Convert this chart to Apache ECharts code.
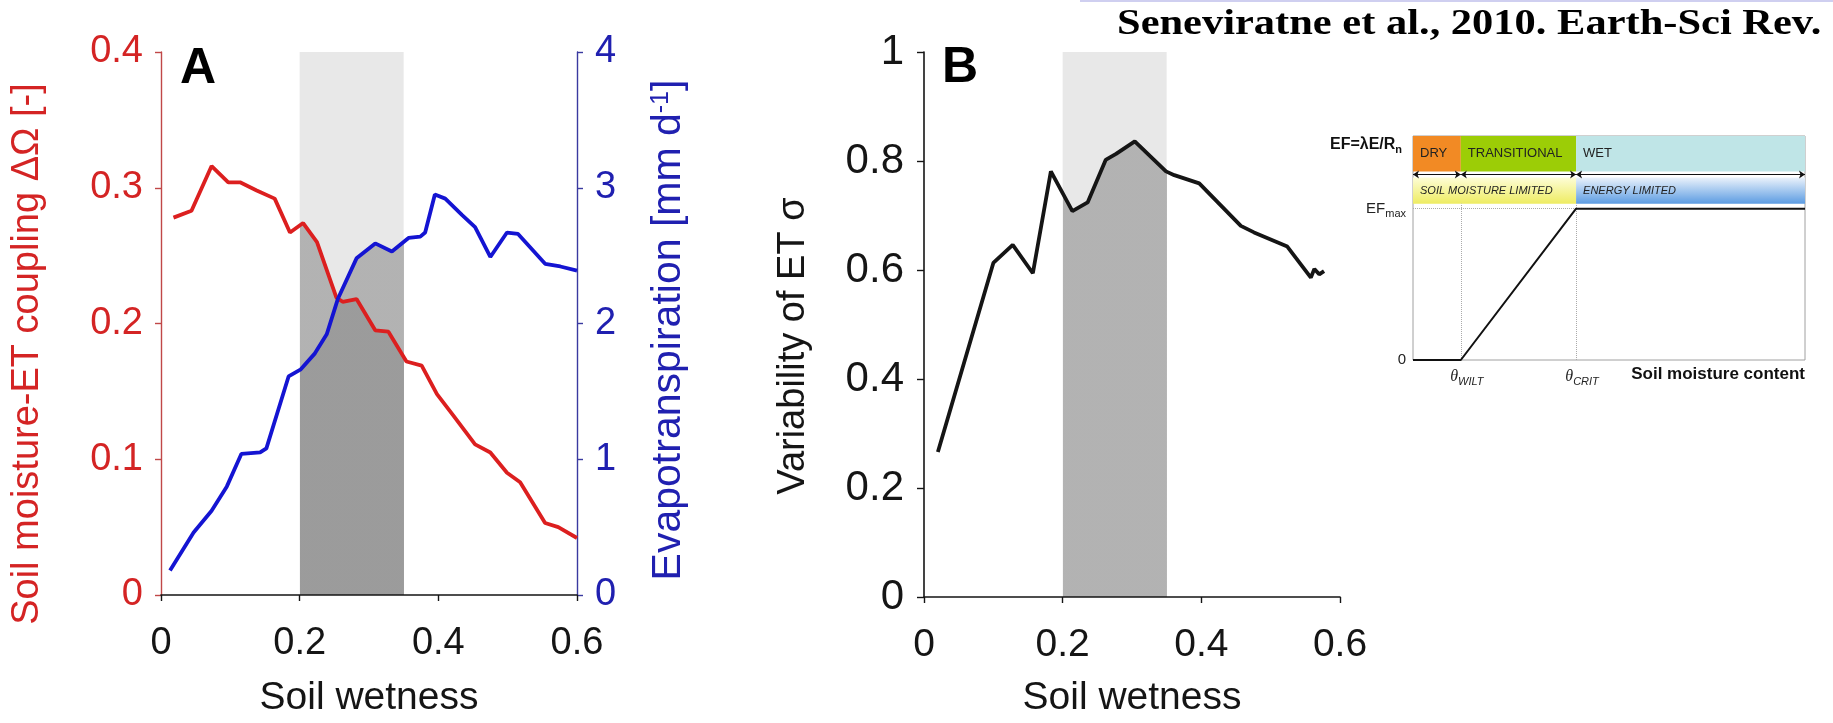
<!DOCTYPE html>
<html>
<head>
<meta charset="utf-8">
<script src="https://cdn.jsdelivr.net/npm/echarts@6/dist/echarts.min.js"></script>
<style>
html,body{margin:0;padding:0;background:#ffffff;}
#c{width:1833px;height:723px;}
</style>
</head>
<body>
<div id="c"></div>
<script>
// ---------- data ----------
// Panel A, red curve: soil moisture-ET coupling ΔΩ vs soil wetness
const wetnessCoupling = [0.018, 0.044, 0.073, 0.097, 0.114, 0.138, 0.164, 0.186, 0.205, 0.225, 0.253, 0.262, 0.282, 0.309, 0.328, 0.354, 0.376, 0.398, 0.422, 0.453, 0.475, 0.499, 0.518, 0.554, 0.573, 0.600];
const couplingDeltaOmega = [0.278, 0.283, 0.316, 0.304, 0.304, 0.298, 0.292, 0.267, 0.274, 0.260, 0.219, 0.216, 0.218, 0.195, 0.194, 0.172, 0.169, 0.148, 0.132, 0.111, 0.105, 0.090, 0.083, 0.053, 0.050, 0.042];
// Panel A, blue curve: evapotranspiration [mm/d] vs soil wetness
const wetnessET = [0.013, 0.047, 0.073, 0.095, 0.116, 0.143, 0.152, 0.184, 0.201, 0.222, 0.239, 0.255, 0.282, 0.309, 0.333, 0.357, 0.374, 0.381, 0.395, 0.410, 0.434, 0.453, 0.475, 0.499, 0.515, 0.554, 0.576, 0.600];
const evapotranspiration = [0.18, 0.46, 0.62, 0.80, 1.04, 1.05, 1.08, 1.61, 1.66, 1.78, 1.92, 2.18, 2.48, 2.59, 2.53, 2.63, 2.64, 2.67, 2.95, 2.92, 2.80, 2.71, 2.49, 2.67, 2.66, 2.44, 2.42, 2.39];
// Panel B: variability of ET σ vs soil wetness
const wetnessVar = [0.020, 0.100, 0.128, 0.157, 0.183, 0.214, 0.236, 0.262, 0.277, 0.304, 0.349, 0.361, 0.397, 0.457, 0.476, 0.524, 0.558, 0.563, 0.570, 0.577];
const variabilityET = [0.266, 0.613, 0.646, 0.594, 0.781, 0.708, 0.724, 0.802, 0.813, 0.836, 0.781, 0.774, 0.759, 0.681, 0.669, 0.643, 0.586, 0.602, 0.592, 0.598];
// transitional soil wetness band
const bandRange = [0.2, 0.35];
// Inset: evaporative fraction regimes
const insetTheta = [0, 0.122, 0.416, 1];
const insetEF = [0, 0, 1, 1];
const regimeNames = ['DRY', 'TRANSITIONAL', 'WET'];
const limitNames = ['SOIL MOISTURE LIMITED', 'ENERGY LIMITED'];
const thetaLabels = ['WILT', 'CRIT'];
// axis titles
const nameCoupling = 'Soil moisture-ET coupling ΔΩ [-]';
const nameET = ['Evapotranspiration [mm d', '-1', ']'];
const nameVar = 'Variability of ET σ';
const nameWetness = 'Soil wetness';
const citation = 'Seneviratne et al., 2010. Earth-Sci Rev.';

// ---------- styles ----------
const SANS = '"Liberation Sans", Arial, sans-serif';
const SERIF = '"Liberation Serif", "Times New Roman", serif';
const RED = '#dc1f1f', RED_TXT = '#d42424', RED_AX = '#c04848';
const BLUE = '#1414d2', BLUE_TXT = '#2020b0', BLUE_AX = '#3a3aa0';
const INK = '#151515';
const BAND_LIGHT = '#e8e8e8';
const SHADE = '#8a8a8a';
const LINE_W = 3.8;

const pairs = (xs, ys) => xs.map((x, i) => [x, ys[i]]);
const redPts = pairs(wetnessCoupling, couplingDeltaOmega);
const bluePts = pairs(wetnessET, evapotranspiration);
const bPts = pairs(wetnessVar, variabilityET);
const insetPts = pairs(insetTheta, insetEF);

const ROW1 = [1.245, 1.48], ARROW_Y = 1.225, ROW2 = [1.033, 1.205];

function xAxisMain(grid) {
  return {
    gridIndex: grid, type: 'value', min: 0, max: 0.6, interval: 0.2, z: 6,
    axisLine: {show: true, onZero: false, lineStyle: {color: INK, width: 1.6}},
    axisTick: {show: true, length: 6, lineStyle: {color: INK, width: 1.4}},
    axisLabel: {color: INK, fontSize: grid === 0 ? 38 : 39, fontFamily: SANS, margin: grid === 0 ? 30 : 29},
    splitLine: {show: false},
    name: nameWetness, nameLocation: 'middle', nameGap: grid === 0 ? 84 : 82,
    nameTextStyle: {color: INK, fontSize: 39, fontFamily: SANS}
  };
}

const option = {
  animation: false,
  backgroundColor: '#ffffff',
  grid: [
    {left: 161, top: 52, width: 416, height: 555},
    {left: 924, top: 52, width: 416, height: 555},
    {left: 1413, top: 136, width: 392, height: 224, show: true, borderColor: '#a0a0a0', borderWidth: 1, backgroundColor: 'rgba(0,0,0,0)'}
  ],
  xAxis: [
    xAxisMain(0),
    xAxisMain(1),
    {
      gridIndex: 2, type: 'value', min: 0, max: 1,
      axisLine: {show: false, onZero: false}, axisTick: {show: false}, splitLine: {show: false},
      axisLabel: {
        show: true, customValues: [insetTheta[1], insetTheta[2]], margin: 6, padding: [0, 0, 0, 12],
        formatter: function (v) { return v === insetTheta[1] ? '{t|θ}{s|' + thetaLabels[0] + '}' : '{t|θ}{s|' + thetaLabels[1] + '}'; },
        rich: {
          t: {fontFamily: SERIF, fontStyle: 'italic', fontSize: 16, color: '#222'},
          s: {fontFamily: SANS, fontStyle: 'italic', fontSize: 11, color: '#222', padding: [10, 0, 0, 0]}
        }
      }
    }
  ],
  yAxis: [
    {
      gridIndex: 0, type: 'value', min: 0, max: 0.4, interval: 0.1, position: 'left',
      axisLine: {show: true, onZero: false, lineStyle: {color: RED_AX, width: 1.4}},
      axisTick: {show: true, length: 6, lineStyle: {color: RED_AX, width: 1.4}},
      axisLabel: {color: RED_TXT, fontSize: 38, fontFamily: SANS, margin: 18},
      splitLine: {show: false}
    },
    {
      gridIndex: 0, type: 'value', min: 0, max: 4, interval: 1, position: 'right',
      axisLine: {show: true, onZero: false, lineStyle: {color: BLUE_AX, width: 1.4}},
      axisTick: {show: true, length: 6, lineStyle: {color: BLUE_AX, width: 1.4}},
      axisLabel: {color: BLUE_TXT, fontSize: 38, fontFamily: SANS, margin: 18},
      splitLine: {show: false}
    },
    {
      gridIndex: 1, type: 'value', min: 0, max: 1, interval: 0.2, position: 'left',
      axisLine: {show: true, onZero: false, lineStyle: {color: INK, width: 1.6}},
      axisTick: {show: true, length: 7, lineStyle: {color: INK, width: 1.4}},
      axisLabel: {color: INK, fontSize: 42, fontFamily: SANS, margin: 20},
      splitLine: {show: false}
    },
    {
      gridIndex: 2, type: 'value', min: 0, max: 1.48, interval: 1,
      axisLine: {show: false, onZero: false}, axisTick: {show: false}, splitLine: {show: false},
      axisLabel: {
        show: true, margin: 7, showMaxLabel: false,
        formatter: function (v) { if (v === 0) return '{n|0}'; if (v === 1) return '{n|EF}{s|max}'; return ''; },
        rich: {
          n: {fontFamily: SANS, fontSize: 15, color: '#222'},
          s: {fontFamily: SANS, fontSize: 11, color: '#222', padding: [10, 0, 0, 0]}
        }
      }
    }
  ],
  visualMap: [{
    type: 'piecewise', show: false, dimension: 0, seriesIndex: [2, 3, 5],
    pieces: [{gte: bandRange[0], lte: bandRange[1], color: SHADE}],
    outOfRange: {color: 'rgba(0,0,0,0)'}
  }],
  series: [
    { // 0 red line
      type: 'line', name: 'ΔΩ', xAxisIndex: 0, yAxisIndex: 0, data: redPts, showSymbol: false, z: 4,
      lineStyle: {color: RED, width: LINE_W}, itemStyle: {color: RED},
      markArea: {silent: true, itemStyle: {color: BAND_LIGHT}, data: [[{xAxis: bandRange[0]}, {xAxis: bandRange[1]}]]}
    },
    { // 1 blue line
      type: 'line', name: 'ET', xAxisIndex: 0, yAxisIndex: 1, data: bluePts, showSymbol: false, z: 4,
      lineStyle: {color: BLUE, width: LINE_W}, itemStyle: {color: BLUE}
    },
    { // 2 shade under red in band
      type: 'line', xAxisIndex: 0, yAxisIndex: 0, data: redPts, showSymbol: false, silent: true, z: 3,
      lineStyle: {width: 0, opacity: 0}, areaStyle: {opacity: 0.57}
    },
    { // 3 shade under blue in band
      type: 'line', xAxisIndex: 0, yAxisIndex: 1, data: bluePts, showSymbol: false, silent: true, z: 3,
      lineStyle: {width: 0, opacity: 0}, areaStyle: {opacity: 0.57}
    },
    { // 4 panel B line
      type: 'line', name: 'σ', xAxisIndex: 1, yAxisIndex: 2, data: bPts, showSymbol: false, z: 4,
      lineStyle: {color: INK, width: LINE_W}, itemStyle: {color: INK},
      markArea: {silent: true, itemStyle: {color: BAND_LIGHT}, data: [[{xAxis: bandRange[0]}, {xAxis: bandRange[1]}]]}
    },
    { // 5 shade under B line in band
      type: 'line', xAxisIndex: 1, yAxisIndex: 2, data: bPts, showSymbol: false, silent: true, z: 3,
      lineStyle: {width: 0, opacity: 0}, areaStyle: {opacity: 0.57}
    },
    { // 6 inset EF curve
      type: 'line', name: 'EF', xAxisIndex: 2, yAxisIndex: 3, data: insetPts, showSymbol: false, z: 5,
      lineStyle: {color: '#111', width: 2}, itemStyle: {color: '#111'},
      markArea: {
        silent: true,
        data: [
          [{name: regimeNames[0], xAxis: insetTheta[0], yAxis: ROW1[0], itemStyle: {color: '#f28a24'}}, {xAxis: insetTheta[1], yAxis: ROW1[1]}],
          [{name: regimeNames[1], xAxis: insetTheta[1], yAxis: ROW1[0], itemStyle: {color: '#9ccd06'}}, {xAxis: insetTheta[2], yAxis: ROW1[1]}],
          [{name: regimeNames[2], xAxis: insetTheta[2], yAxis: ROW1[0], itemStyle: {color: '#bfe5e7'}}, {xAxis: insetTheta[3], yAxis: ROW1[1]}],
          [{name: limitNames[0], xAxis: insetTheta[0], yAxis: ROW2[0],
            itemStyle: {color: {type: 'linear', x: 0, y: 0, x2: 0, y2: 1, colorStops: [{offset: 0, color: '#fdfdd6'}, {offset: 1, color: '#eeec62'}]}},
            label: {fontStyle: 'italic', fontSize: 11}}, {xAxis: insetTheta[2], yAxis: ROW2[1]}],
          [{name: limitNames[1], xAxis: insetTheta[2], yAxis: ROW2[0],
            itemStyle: {color: {type: 'linear', x: 0, y: 0, x2: 0, y2: 1, colorStops: [{offset: 0, color: '#eaf2fb'}, {offset: 1, color: '#5c9ce2'}]}},
            label: {fontStyle: 'italic', fontSize: 11}}, {xAxis: insetTheta[3], yAxis: ROW2[1]}]
        ],
        label: {show: true, position: 'insideLeft', distance: 7, color: '#222', fontFamily: SANS, fontSize: 13}
      },
      markLine: {
        silent: true, symbol: ['arrow', 'arrow'], symbolSize: 6,
        label: {show: false},
        lineStyle: {color: '#111', width: 1, type: 'solid'},
        data: [
          [{coord: [insetTheta[0], ARROW_Y]}, {coord: [insetTheta[1], ARROW_Y]}],
          [{coord: [insetTheta[1], ARROW_Y]}, {coord: [insetTheta[2], ARROW_Y]}],
          [{coord: [insetTheta[2], ARROW_Y]}, {coord: [insetTheta[3], ARROW_Y]}],
          [{coord: [insetTheta[1], 0], symbol: 'none', lineStyle: {type: 'dotted', color: '#aaaaaa', width: 1}}, {coord: [insetTheta[1], ROW2[0]], symbol: 'none'}],
          [{coord: [insetTheta[2], 0], symbol: 'none', lineStyle: {type: 'dotted', color: '#aaaaaa', width: 1}}, {coord: [insetTheta[2], ROW2[0]], symbol: 'none'}],
          [{coord: [insetTheta[0], 1.005], symbol: 'none', lineStyle: {type: 'dotted', color: '#aaaaaa', width: 1}}, {coord: [insetTheta[2], 1.005], symbol: 'none'}]
        ]
      }
    }
  ],
  graphic: [
    {type: 'line', shape: {x1: 1080, y1: 1, x2: 1833, y2: 1}, style: {stroke: '#cfcff0', lineWidth: 2}, silent: true},
    {type: 'text', x: 1117, y: 25, scaleX: 1.18, silent: true,
      style: {text: citation, fill: '#000', fontFamily: SERIF, fontWeight: 'bold', fontSize: 36, verticalAlign: 'middle'}},
    {type: 'text', x: 180, y: 69, silent: true, style: {text: 'A', fill: '#000', fontFamily: SANS, fontWeight: 'bold', fontSize: 50, verticalAlign: 'middle'}},
    {type: 'text', x: 942, y: 68, silent: true, style: {text: 'B', fill: '#000', fontFamily: SANS, fontWeight: 'bold', fontSize: 50, verticalAlign: 'middle'}},
    // rotated axis titles
    {type: 'text', x: 28, y: 354, rotation: Math.PI / 2, silent: true,
      style: {text: nameCoupling, fill: RED_TXT, fontFamily: SANS, fontSize: 38, align: 'center', verticalAlign: 'middle'}},
    {type: 'text', x: 669, y: 330, rotation: Math.PI / 2, silent: true,
      style: {text: '{n|' + nameET[0] + '}{s|' + nameET[1] + '}{n|' + nameET[2] + '}', align: 'center', verticalAlign: 'middle',
        rich: {n: {fontFamily: SANS, fontSize: 41, fill: BLUE_TXT}, s: {fontFamily: SANS, fontSize: 25, fill: BLUE_TXT, verticalAlign: 'top'}}}},
    {type: 'text', x: 794, y: 346, rotation: Math.PI / 2, silent: true,
      style: {text: nameVar, fill: INK, fontFamily: SANS, fontSize: 38, align: 'center', verticalAlign: 'middle'}},
    {type: 'text', x: 1330, y: 145, silent: true,
      style: {text: '{b|EF=λE/R}{s|n}', verticalAlign: 'middle',
        rich: {b: {fontFamily: SANS, fontWeight: 'bold', fontSize: 16, fill: '#111'}, s: {fontFamily: SANS, fontWeight: 'bold', fontSize: 11, fill: '#111', padding: [9, 0, 0, 0]}}}},
    {type: 'text', x: 1805, y: 374, silent: true,
      style: {text: 'Soil moisture content', fill: '#111', fontFamily: SANS, fontWeight: 'bold', fontSize: 17, align: 'right', verticalAlign: 'middle'}}
  ]
};

const chart = echarts.init(document.getElementById('c'));
chart.setOption(option);
</script>
</body>
</html>
